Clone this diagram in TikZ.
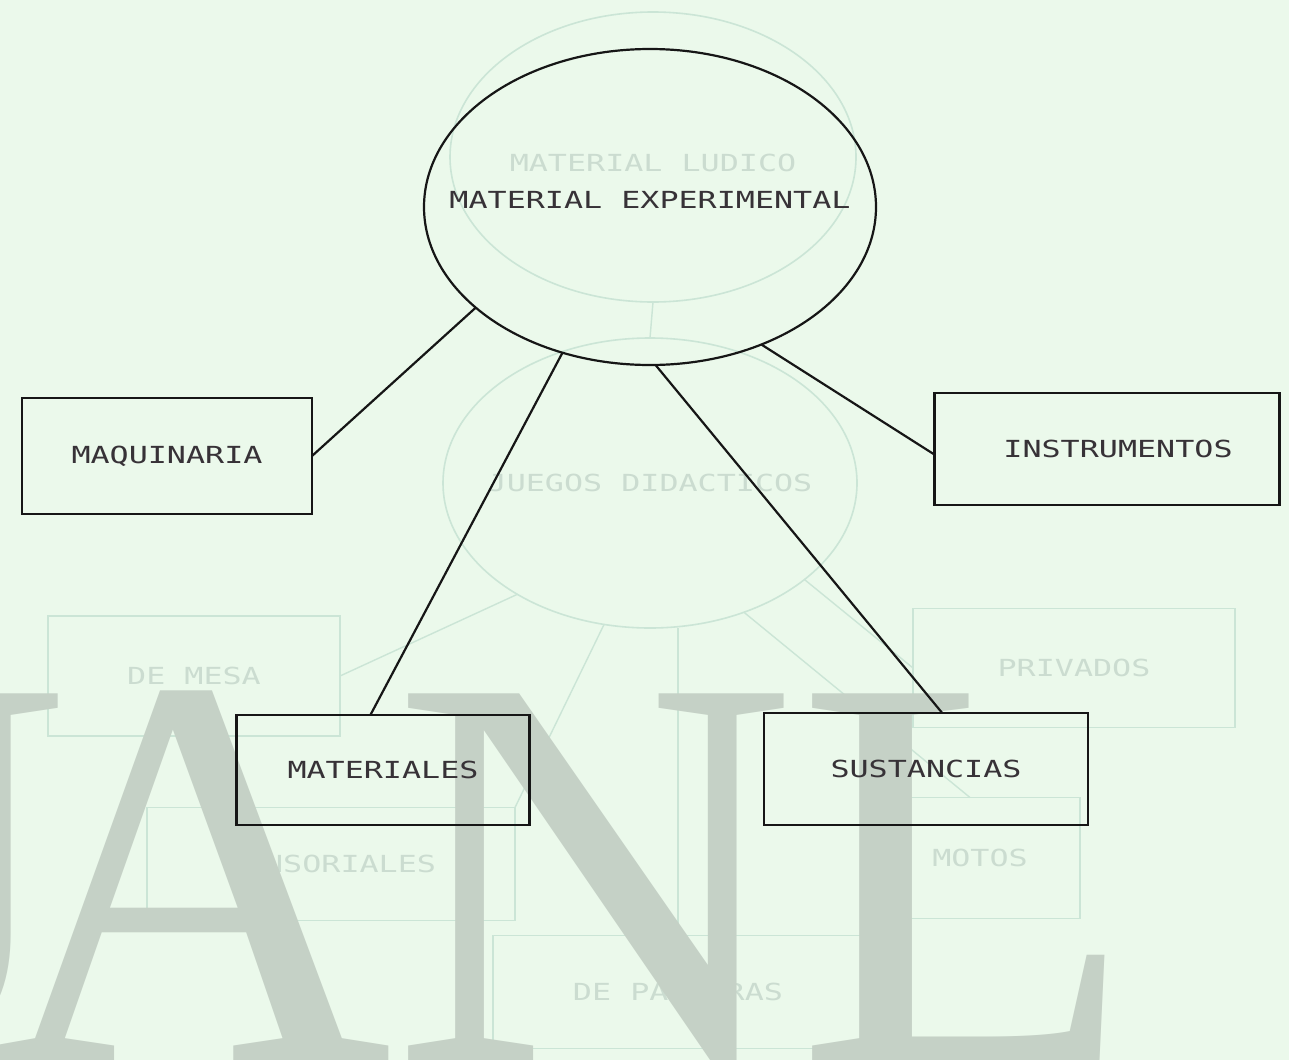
\documentclass[tikz,border=0pt]{standalone}
\usepackage{fontspec}
\usetikzlibrary{shapes.geometric,calc}
\newfontfamily\dotfont[FakeStretch=1.35]{DejaVu Sans Mono}
\newfontfamily\wmfont{Liberation Serif}
\definecolor{paper}{RGB}{235,249,235}
\definecolor{ghost}{RGB}{203,229,214}
\definecolor{ghosttext}{RGB}{203,220,208}
\definecolor{wm}{RGB}{197,209,198}
\definecolor{ink}{RGB}{22,22,22}
\definecolor{textink}{RGB}{55,50,55}
\begin{document}
\begin{tikzpicture}[x=1pt,y=-1pt,
  dottext/.style={font=\dotfont\fontsize{23.5}{24}\selectfont},
  mainbox/.style={draw=ink,line width=2.2pt,rectangle,inner sep=0pt,outer sep=0pt,dottext,text=textink},
  mainell/.style={draw=ink,line width=2.2pt,ellipse,inner sep=0pt,outer sep=0pt},
  mainline/.style={draw=ink,line width=2.2pt},
  maintext/.style={dottext,text=textink,inner sep=0pt},
  ghostbox/.style={draw=ghost,line width=1.6pt,rectangle,inner sep=0pt,outer sep=0pt,dottext,text=ghosttext},
  ghostell/.style={draw=ghost,line width=1.6pt,ellipse,inner sep=0pt,outer sep=0pt},
  ghosttxt/.style={dottext,text=ghosttext,inner sep=0pt},
  ghostline/.style={draw=ghost,line width=1.4pt},
  wmtext/.style={text=wm,inner sep=0pt,outer sep=0pt,font=\wmfont\fontsize{560}{560}\selectfont}
]
\useasboundingbox (0,0) rectangle (1289,1060);
\clip (0,0) rectangle (1289,1060);
\fill[paper] (0,0) rectangle (1289,1060);

% ghost (show-through) diagram
\node[ghostell,minimum width=406pt,minimum height=290pt,
  label={[ghosttxt,yshift=-6pt]center:MATERIAL LUDICO}] (g1) at (653,157) {};
\node[ghostell,minimum width=414pt,minimum height=290pt,
  label={[ghosttxt]center:JUEGOS DIDACTICOS}] (g2) at (650,483) {};
\node[ghostbox,minimum width=292pt,minimum height=120pt] (gmesa) at (194,676) {DE MESA};
\node[ghostbox,minimum width=322pt,minimum height=119pt] (gpriv) at (1074,668) {PRIVADOS};
\node[ghostbox,minimum width=368pt,minimum height=113pt] (gsens) at (331,864) {SENSORIALES};
\node[ghostbox,minimum width=200pt,minimum height=121pt] (gmot) at (980,858) {MOTOS};
\node[ghostbox,minimum width=370pt,minimum height=113pt] (gpal) at (678,992) {DE PALABRAS};
\draw[ghostline] (g1.south) -- (g2.north);
\draw[ghostline] (g2.220) -- (gmesa.east);
\draw[ghostline] (g2.252) -- (gsens.north east);
\draw[ghostline] (g2.south -| gpal.north) -- (gpal.north);
\draw[ghostline] (g2.306) -- ($(gmot.north west)!0.45!(gmot.north east)$);
\draw[ghostline] (g2.328) -- (gpriv.west);

% watermark
\node[wmtext,anchor=base west] (wmanl) at (-12,1060) {ANL};
\node[wmtext,anchor=base east] (wmu) at (70,1060) {U};

% main diagram
\node[mainell,minimum width=452pt,minimum height=316pt,
  label={[maintext,yshift=7pt]center:MATERIAL EXPERIMENTAL}] (exp) at (650,207) {};
\node[mainbox,minimum width=290pt,minimum height=116pt] (maq) at (167,456) {MAQUINARIA};
\node[mainbox,minimum width=345pt,minimum height=112pt] (ins) at (1107,449) {\hspace*{22pt}INSTRUMENTOS};
\node[mainbox,minimum width=293pt,minimum height=110pt] (mat) at (383,770) {MATERIALES};
\node[mainbox,minimum width=324pt,minimum height=112pt] (sus) at (926,769) {SUSTANCIAS};

\draw[mainline] (exp.210) -- (maq.east);
\draw[mainline] (exp.239.5) -- ($(mat.north west)!0.457!(mat.north east)$);
\draw[mainline] (exp.272.6) -- ($(sus.north west)!0.55!(sus.north east)$);
\draw[mainline] (exp.309.7) -- ($(ins.north west)!0.55!(ins.south west)$);
\end{tikzpicture}
\end{document}
